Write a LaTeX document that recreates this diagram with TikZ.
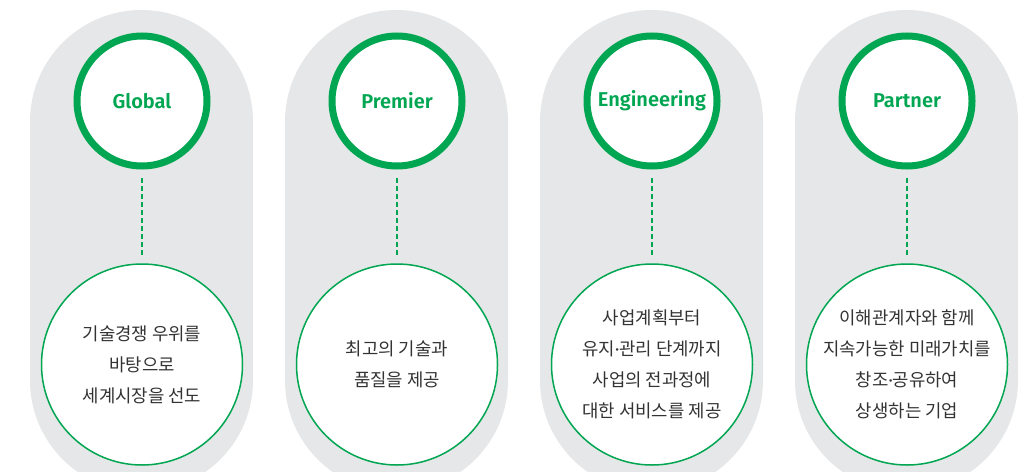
\documentclass[tikz,border=0pt]{standalone}
\usepackage{fontspec}
\setmainfont{Fira Sans}[BoldFont={Fira Sans SemiBold}]
\newfontfamily\kr{Noto Sans CJK KR}
\newcommand{\mdot}{{\rmfamily ·}}
\definecolor{brandgreen}{HTML}{00A651}
\definecolor{pillgrey}{HTML}{E6E7E8}
\definecolor{textgrey}{HTML}{333333}
\tikzset{
  pill/.style={fill=pillgrey, rounded corners=111.5pt},
  topcircle/.style={circle, draw=brandgreen, line width=7pt, fill=white,
    minimum size=130pt, inner sep=0pt, text=brandgreen,
    font=\fontsize{20}{24}\selectfont\bfseries},
  botcircle/.style={circle, draw=brandgreen, line width=1.5pt, fill=white,
    minimum size=201pt, inner sep=0pt, text=textgrey, align=center,
    font=\kr\fontsize{17.8}{31}\selectfont},
  dashline/.style={draw=brandgreen, line width=1.5pt, dash pattern=on 5pt off 3pt,
    shorten <=8.5pt, shorten >=8pt}
}
\begin{document}
\begin{tikzpicture}[x=1pt,y=-1pt]
\useasboundingbox (0,0) rectangle (1035,471);
\clip (0,0) rectangle (1035,471);
\foreach \cx in {141.5,396.5,651.5,906.5}{
  \fill[pill] (\cx-111.5,10) rectangle (\cx+111.5,492);
}
\node[topcircle] (t1) at (142,101) {Global};
\node[topcircle] (t2) at (397,101) {Premier};
\node[topcircle] (t3) at (652,101) {Engineering};
\node[topcircle] (t4) at (907,101) {Partner};
\node[botcircle] (b1) at (142,364.5) {기술경쟁 우위를\\바탕으로\\세계시장을 선도};
\node[botcircle] (b2) at (397,364.5) {최고의 기술과\\품질을 제공};
\node[botcircle] (b3) at (652,364.5) {사업계획부터\\유지{\mdot}관리 단계까지\\사업의 전과정에\\대한 서비스를 제공};
\node[botcircle] (b4) at (907,364.5) {이해관계자와 함께\\지속가능한 미래가치를\\창조{\mdot}공유하여\\상생하는 기업};
\draw[dashline] (t1) -- (b1);
\draw[dashline] (t2) -- (b2);
\draw[dashline] (t3) -- (b3);
\draw[dashline] (t4) -- (b4);
\end{tikzpicture}
\end{document}
